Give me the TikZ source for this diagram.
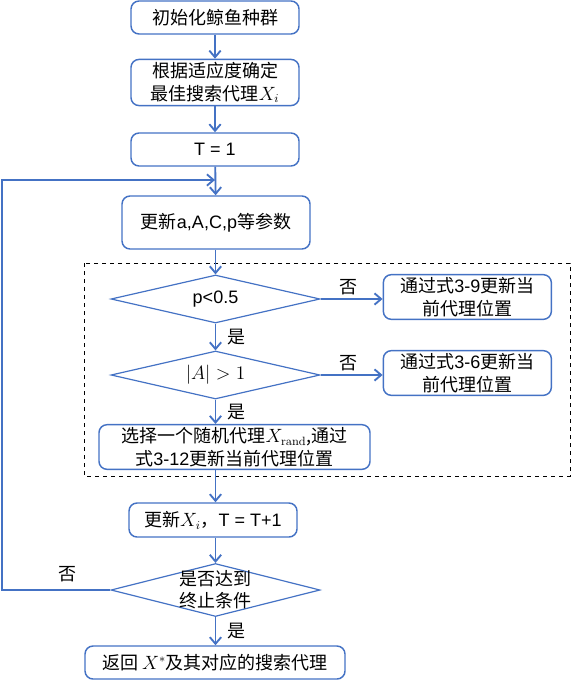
\documentclass[tikz,border=0pt]{standalone}
\usepackage[no-math]{fontspec}
\setmainfont{Noto Sans CJK SC}
\newfontfamily\latinsf{Liberation Sans}
\usepackage{xcolor}
\usepackage{tikz}
\usetikzlibrary{arrows.meta,positioning,shapes.geometric}
\definecolor{flowblue}{HTML}{4472C4}
\newcommand{\en}[1]{{\latinsf #1}}
\tikzset{
    stepbox/.style={draw=flowblue, line width=1.1pt, rounded corners=6pt,
    align=center, inner sep=2pt, font=\fontsize{13.5}{17}\selectfont},
    cond/.style={draw=flowblue, line width=0.9pt, diamond, aspect=4,
    inner sep=0pt, align=center, font=\fontsize{13.5}{16.5}\selectfont},
    flow/.style={draw=flowblue, line width=1.4pt,
    -{Straight Barb[length=5pt,width=8.5pt]}},
    yesno/.style={font=\fontsize{13.5}{16}\selectfont, inner sep=2pt},
    region/.style={draw, dashed, line width=0.7pt},
}

\begin{document}
\begin{tikzpicture}[x=0.75pt, y=-0.75pt]
            \useasboundingbox (0,0) rectangle (571,681);
            % --- main chain ---
            \node[stepbox, minimum width=126pt, minimum height=24.75pt] (init) at (215,17.5) {初始化鲸鱼种群};
            \node[stepbox, minimum width=126pt, minimum height=32.25pt] (best) at (215,82.5) {根据适应度确定\\最佳搜索代理$X_i$};
            \node[stepbox, minimum width=126pt, minimum height=24.75pt] (tone) at (215,149.5) {\en{T = 1}};
            \node[stepbox, minimum width=141pt, minimum height=39.75pt] (param) at (216,222.5) {更新\en{a,A,C,p}等参数};
            % --- position update ---
            \draw[region] (84,263) rectangle (570,476);
            \node[cond, minimum width=156.75pt, minimum height=36pt] (pchk) at (215.5,299) {\en{p<0.5}};
            \node[stepbox, minimum width=126pt, minimum height=33pt, right=46.5pt of pchk, yshift=1.5pt] (spiral) {通过式\en{3-9}更新当\\前代理位置};
            \node[cond, minimum width=156.75pt, minimum height=36pt] (achk) at (215.5,375) {$|A|>1$};
            \node[stepbox, minimum width=126pt, minimum height=32.25pt, right=46.5pt of achk, yshift=1.5pt] (encircle) {通过式\en{3-6}更新当\\前代理位置};
            \node[stepbox, minimum width=203.25pt, minimum height=33pt] (rand) at (234.5,447) {选择一个随机代理$X_{\mathrm{rand}}$,通过\\式\en{3-12}更新当前代理位置};
            % --- iteration ---
            \node[stepbox, minimum width=126pt, minimum height=25.5pt] (upd) at (213,520) {更新$X_i$，\en{T = T+1}};
            \node[cond, minimum width=156.75pt, minimum height=39.75pt,
                  label={[align=center, font=\fontsize{13.5}{16.5}\selectfont]center:是否达到\\终止条件}] (stop) at (215.5,590) {};
            \node[stepbox, minimum width=195pt, minimum height=24.75pt] (ret) at (215,662.5) {返回 $X^{*}$及其对应的搜索代理};
            \coordinate (join) at (215,180);
            \coordinate (corner) at (2,590);
            % --- connectors ---
            \draw[flow] (init) -- (best);
            \draw[flow] (best) -- (tone);
            \draw[flow] (tone) -- (param);
            \draw[flow] (param.south -| pchk.north) -- (pchk);
            \draw[flow] (pchk) -- node[yesno, above, pos=0.45] {否} (spiral.west |- pchk);
            \draw[flow] (pchk) -- node[yesno, right, xshift=6pt] {是} (achk);
            \draw[flow] (achk) -- node[yesno, above, pos=0.45] {否} (encircle.west |- achk);
            \draw[flow] (achk) -- node[yesno, right, xshift=6pt] {是} (rand.north -| achk);
            \draw[flow] (rand.south -| stop.north) -- (upd.north -| stop.north);
            \draw[flow] (upd.south -| stop.north) -- (stop);
            \draw[flow] (stop) -- node[yesno, right, xshift=6pt] {是} (ret.north -| stop.south);
            \draw[flow] (stop.west) -- node[yesno, above, pos=0.4, yshift=3pt] {否} (corner) |- (join);
        \end{tikzpicture}
\end{document}
